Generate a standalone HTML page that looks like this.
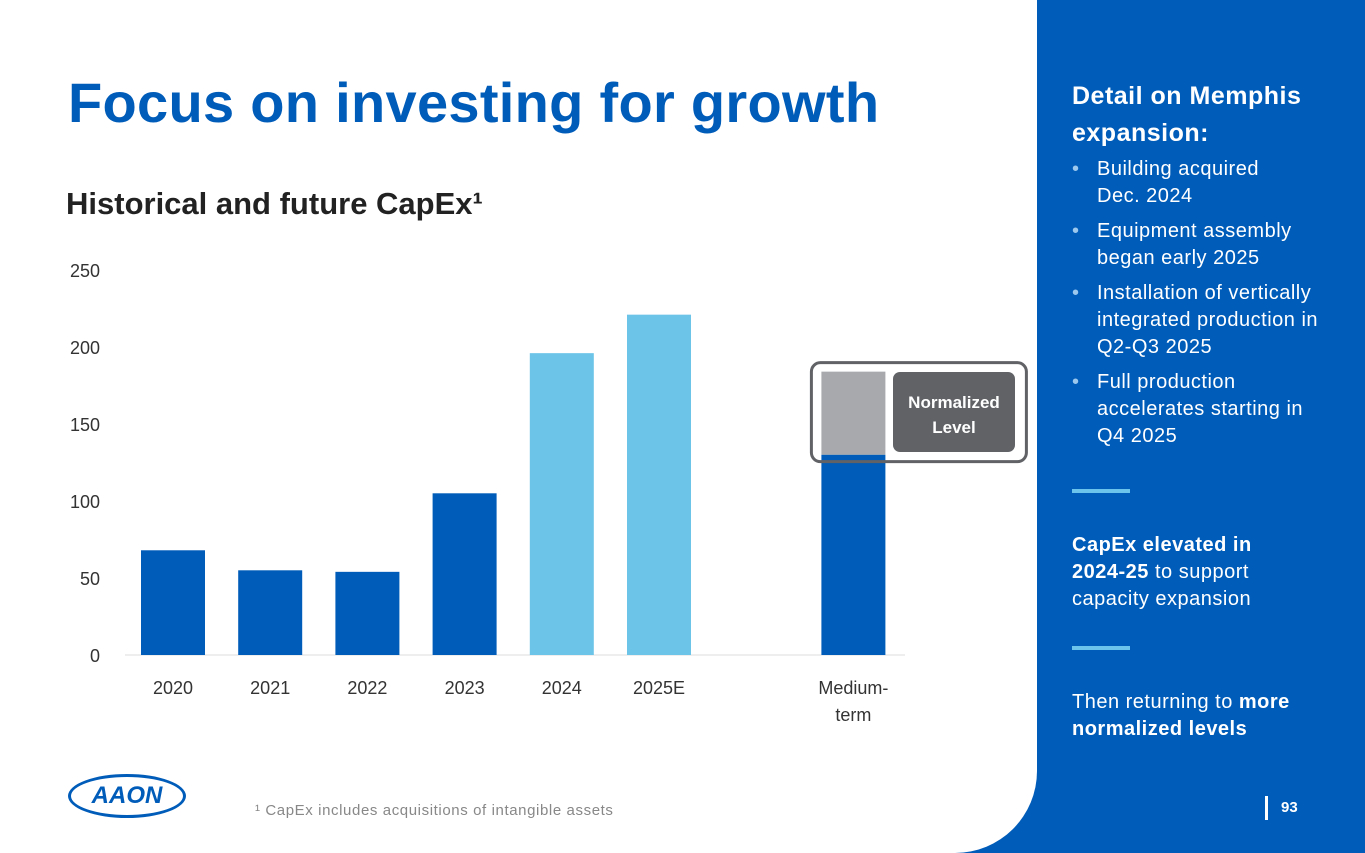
<!DOCTYPE html>
<html><head><meta charset="utf-8"><style>
body{margin:0;width:1365px;height:853px;position:relative;overflow:hidden;font-family:"Liberation Sans",sans-serif;background:#fff}
.abs{position:absolute}
#panel{left:955px;top:0;width:410px;height:853px;background:#005cb9}
#white{left:0;top:0;width:1037px;height:853px;background:#fff;border-bottom-right-radius:82px}
.rp{color:#fff;font-size:20px;letter-spacing:0.5px;line-height:27px}
ul{margin:0;padding:0;list-style:none}
li{position:relative;padding-left:25px;margin-bottom:8px}
li:before{content:"•";position:absolute;left:0;color:#9cc8ee}
</style></head><body>
<div id="panel" class="abs"></div>
<div id="white" class="abs"></div>
<div class="abs" style="left:68px;top:70px;font-size:56px;font-weight:bold;color:#005cb9;letter-spacing:0.3px">Focus on investing for growth</div>
<div class="abs" style="left:66px;top:186px;font-size:31px;font-weight:bold;color:#222">Historical and future CapEx¹</div>
<svg class="abs" style="left:0;top:0" width="1037" height="853" id="chart"></svg>
<div class="abs" style="left:68px;top:774px;width:118px;height:44px;border:3px solid #005cb9;border-radius:50%;box-sizing:border-box;text-align:center;line-height:38px;color:#005cb9;font-weight:bold;font-style:italic;font-size:24px">AAON</div>
<div class="abs" style="left:255px;top:802px;font-size:15px;color:#888;letter-spacing:0.6px">¹ CapEx includes acquisitions of intangible assets</div>
<div class="abs rp" style="left:1072px;top:78px;font-size:25px;font-weight:bold;line-height:37px">Detail on Memphis<br>expansion:</div>
<ul class="abs rp" style="left:1072px;top:156px;width:275px">
<li>Building acquired<br>Dec. 2024</li>
<li>Equipment assembly<br>began early 2025</li>
<li>Installation of vertically<br>integrated production in<br>Q2-Q3 2025</li>
<li>Full production<br>accelerates starting in<br>Q4 2025</li>
</ul>
<div class="abs" style="left:1072px;top:489px;width:58px;height:4px;background:#6cc4ec"></div>
<div class="abs rp" style="left:1072px;top:532px"><b>CapEx elevated in<br>2024-25</b> to support<br>capacity expansion</div>
<div class="abs" style="left:1072px;top:646px;width:58px;height:4px;background:#6cc4ec"></div>
<div class="abs rp" style="left:1072px;top:689px">Then returning to <b>more<br>normalized levels</b></div>
<div class="abs" style="left:1265px;top:796px;width:3px;height:24px;background:#fff"></div>
<div class="abs" style="left:1281px;top:799px;color:#fff;font-weight:bold;font-size:15px">93</div>
<script>
const categories=["2020","2021","2022","2023","2024","2025E","","Medium-term"];
const values=[68,55,54,105,196,221,null,130];
const normalizedTop=[null,null,null,null,null,null,null,184];
const colors=["dark","dark","dark","dark","light","light","","dark"];
const yTicks=[0,50,100,150,200,250];
const svg=document.getElementById('chart');
const NS='http://www.w3.org/2000/svg';
const y0=655,pxPer=1.54,x0=173,slot=97.2,bw=64;
const y=v=>y0-v*pxPer, x=i=>x0+i*slot;
function mk(t,a){const e=document.createElementNS(NS,t);for(const k in a)e.setAttribute(k,a[k]);svg.appendChild(e);return e;}
yTicks.forEach(t=>{const e=mk('text',{x:100,y:y(t)+7,'text-anchor':'end','font-size':18,fill:'#333'});e.textContent=t;

});
const ax=mk('line',{x1:125,x2:905,y1:y0,y2:y0,stroke:'#ddd','stroke-width':1});


categories.forEach((c,i)=>{
 if(values[i]==null)return;
 if(normalizedTop[i]!=null){const g=mk('rect',{x:x(i)-bw/2,y:y(normalizedTop[i]),width:bw,height:y(values[i])-y(normalizedTop[i]),fill:'#a7a9ac'});
 
 }
 const r=mk('rect',{x:x(i)-bw/2,y:y(values[i]),width:bw,height:y0-y(values[i]),fill:colors[i]=='light'?'#6cc4e8':'#005cb9'});
 
 
 const parts=c=='Medium-term'?['Medium-','term']:[c];
 parts.forEach((p,k)=>{const t=mk('text',{x:x(i),y:694+k*27,'text-anchor':'middle','font-size':18,fill:'#333'});t.textContent=p;
 
 });
});
const last=categories.length-1;
const ob=mk('rect',{x:x(last)-42,y:y(normalizedTop[last])-9,width:215,height:99,rx:9,fill:'none',stroke:'#606266','stroke-width':3});


const lb=mk('rect',{x:893,y:372,width:122,height:80,rx:7,fill:'#606266'});


['Normalized','Level'].forEach((p,k)=>{const t=mk('text',{x:954,y:408+k*25,'text-anchor':'middle','font-size':17,'font-weight':'bold',fill:'#fff'});t.textContent=p;

});
</script>
</body></html>
